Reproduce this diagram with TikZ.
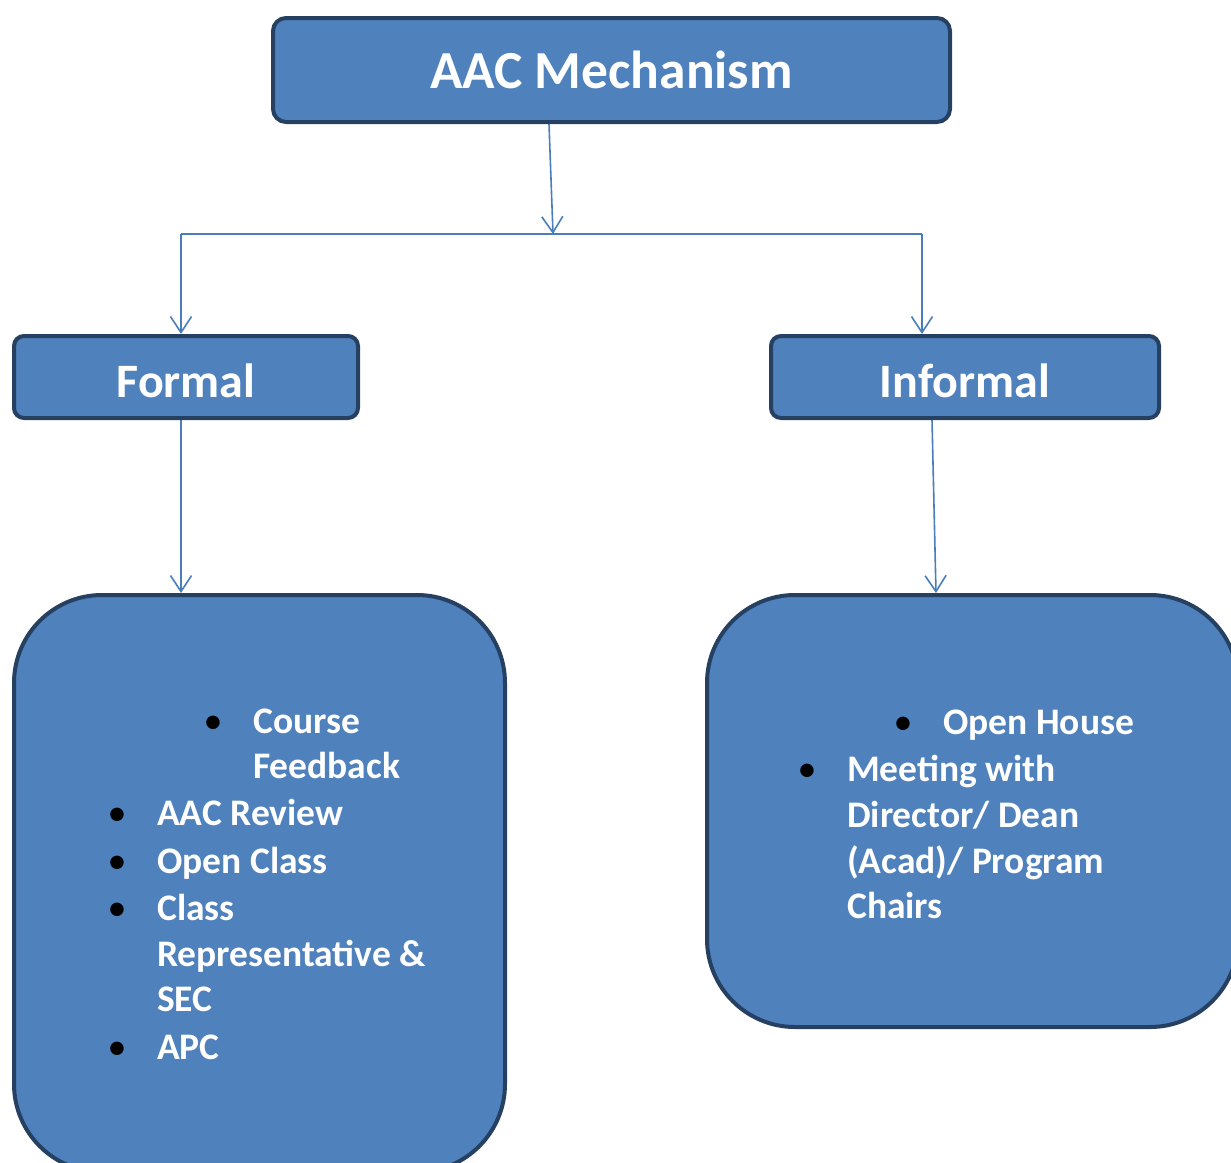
\documentclass[tikz,border=0pt]{standalone}
\usepackage{fontspec}
\setmainfont{Carlito}
\usetikzlibrary{arrows.meta}
\definecolor{boxfill}{RGB}{79,129,189}
\definecolor{boxline}{RGB}{37,64,97}
\definecolor{linkblue}{RGB}{74,126,187}
\tikzset{
  box/.style={draw=boxline, fill=boxfill, line width=4pt, text=white, inner sep=0pt},
  link/.style={draw=linkblue, line width=1.6pt},
  conn/.style={link, -{Straight Barb[length=16pt,width=21pt,line width=1.6pt]}},
  entry/.style={anchor=base west, text=white, inner sep=0pt, font=\fontsize{37.5}{46}\selectfont\bfseries},
  dot/.style={anchor=base, inner sep=0pt, font=\fontsize{38}{46}\selectfont}
}
\begin{document}
\begin{tikzpicture}[x=1pt,y=1pt,yscale=-1,xscale=1]
\useasboundingbox (0,0) rectangle (1231,1162);
\clip (0,0) rectangle (1231,1162);

% Boxes
\node [box, rounded corners=13pt, minimum width=677pt, minimum height=104pt, font=\fontsize{53.5}{60}\selectfont\bfseries] (mech) at (611.5,70) {AAC Mechanism};
\node [box, rounded corners=10pt, minimum width=344pt, minimum height=82pt, text height=41pt, text depth=0pt, font=\fontsize{48}{54}\selectfont\bfseries] (formal) at (186,377) {Formal};
\node [box, rounded corners=10pt, minimum width=388pt, minimum height=82pt, text height=41pt, text depth=0pt, font=\fontsize{48}{54}\selectfont\bfseries] (informal) at (965,377) {Informal};
\node [box, rounded corners=88pt, minimum width=491pt, minimum height=577pt] (flist) at (259.5,883.5) {};
\node [box, rounded corners=88pt, minimum width=531pt, minimum height=432pt] (ilist) at (972.5,811) {};

% Connectors
\coordinate (split) at (553,234);
\coordinate (splitl) at (181,234);
\coordinate (splitr) at (922,234);
\draw [conn] ([xshift=-62.5pt]mech.south) -- (split);
\draw [link] (splitl) -- (splitr);
\draw [conn] (splitl) -- (splitl |- formal.north);
\draw [conn] (splitr) -- (splitr |- informal.north);
\draw [conn] ([xshift=-5pt]formal.south) -- ([xshift=-78.5pt]flist.north);
\draw [conn] ([xshift=-33pt]informal.south) -- ([xshift=-36.5pt]ilist.north);

% Formal items
\node [dot] (fd1) at (213,733) {\textbullet};
\node [entry] (fe1) at (253,733) {Course};
\node [entry] (fe1b) at (253,778) {Feedback};
\node [dot] (fd2) at (117,825) {\textbullet};
\node [entry] (fe2) at (157,825) {AAC Review};
\node [dot] (fd3) at (117,873) {\textbullet};
\node [entry] (fe3) at (157,873) {Open Class};
\node [dot] (fd4) at (117,920) {\textbullet};
\node [entry] (fe4) at (157,920) {Class};
\node [entry] (fe4b) at (157,966) {Representative \&};
\node [entry] (fe4c) at (157,1011) {SEC};
\node [dot] (fd5) at (117,1059) {\textbullet};
\node [entry] (fe5) at (157,1059) {APC};

% Informal items
\node [dot] (id1) at (903,734) {\textbullet};
\node [entry] (ie1) at (943,734) {Open House};
\node [dot] (id2) at (807,781) {\textbullet};
\node [entry] (ie2) at (847,781) {Meeting with};
\node [entry] (ie2b) at (847,827) {Director/ Dean};
\node [entry] (ie2c) at (847,873) {(Acad)/ Program};
\node [entry] (ie2d) at (847,918) {Chairs};

\end{tikzpicture}
\end{document}
